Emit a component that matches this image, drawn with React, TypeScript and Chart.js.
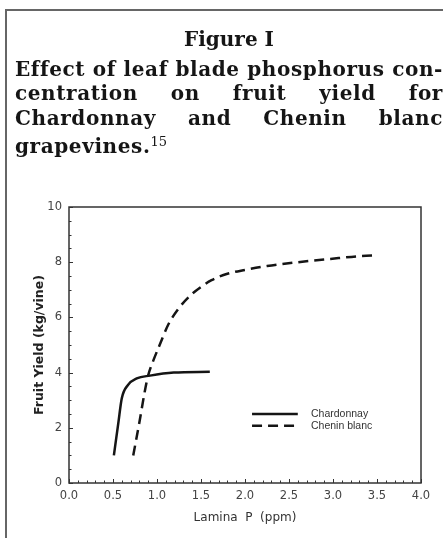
import React, { useEffect, useRef } from "react";
import { Chart, registerables } from "chart.js";

Chart.register(...registerables);

// ---- data ----
const chardonnayP = [0.51, 0.56, 0.6, 0.67, 0.77, 0.92, 1.19, 1.6];
const chardonnayYield = [1.0, 2.16, 3.07, 3.55, 3.79, 3.89, 4.0, 4.03];

const cheninP = [0.73, 0.8, 0.86, 0.9, 0.96, 1.03, 1.13, 1.24, 1.38, 1.52, 1.62, 1.8, 2.0, 2.25, 2.6, 2.97, 3.3, 3.51];
const cheninYield = [1.0, 2.2, 3.3, 3.9, 4.45, 5.0, 5.75, 6.3, 6.8, 7.15, 7.35, 7.58, 7.72, 7.86, 8.0, 8.12, 8.22, 8.25];

const seriesLabels = ["Chardonnay", "Chenin blanc"];
const xTickLabels = ["0.0", "0.5", "1.0", "1.5", "2.0", "2.5", "3.0", "3.5", "4.0"];
const yTickLabels = ["0", "2", "4", "6", "8", "10"];

const xAxisTitle = "Lamina  P  (ppm)";
const yAxisTitle = "Fruit Yield (kg/vine)";

const figureLabel = "Figure I";
const titleLines = [
  ["Effect", "of", "leaf", "blade", "phosphorus", "con-"],
  ["centration", "on", "fruit", "yield", "for"],
  ["Chardonnay", "and", "Chenin", "blanc"],
];
const lastTitleLine = "grapevines.";
const footnoteRef = "15";

const INK = "#151515";
const AXIS = "#333";
const TICK_TEXT = "#444";

const framePlugin = {
  id: "frameTicks",
  afterDraw(chart: any) {
    const { ctx, chartArea: a, scales } = chart;
    const x = scales.x;
    const y = scales.y;
    ctx.save();
    ctx.strokeStyle = AXIS;
    ctx.lineWidth = 1.5;
    ctx.strokeRect(a.left, a.top, a.right - a.left, a.bottom - a.top);
    ctx.lineWidth = 1;
    ctx.beginPath();
    for (let i = 0; i <= 40; i++) {
      const px = Math.round(x.getPixelForValue(i / 10)) + 0.5;
      const len = i % 5 === 0 ? 4 : 2.5;
      ctx.moveTo(px, a.bottom);
      ctx.lineTo(px, a.bottom - len);
    }
    for (let i = 0; i <= 20; i++) {
      const py = Math.round(y.getPixelForValue(i / 2)) + 0.5;
      const len = i % 4 === 0 ? 4 : 2.5;
      ctx.moveTo(a.left, py);
      ctx.lineTo(a.left + len, py);
    }
    ctx.stroke();

    // legend, anchored in data coordinates
    const lx0 = x.getPixelForValue(2.08);
    const lx1 = x.getPixelForValue(2.6);
    const tx = x.getPixelForValue(2.75);
    chart.data.datasets.forEach((ds: any, i: number) => {
      const ly = y.getPixelForValue(2.5) + i * 11.7;
      ctx.strokeStyle = INK;
      ctx.lineWidth = 2.5;
      ctx.setLineDash(ds.borderDash || []);
      ctx.beginPath();
      ctx.moveTo(lx0, ly);
      ctx.lineTo(lx1, ly);
      ctx.stroke();
      ctx.setLineDash([]);
      ctx.fillStyle = "#333";
      ctx.font = "10.5px 'Liberation Sans'";
      ctx.textBaseline = "middle";
      ctx.textAlign = "left";
      ctx.fillText(ds.label, tx, ly);
    });
    ctx.restore();
  },
};

function ChartCanvas() {
  const ref = useRef<HTMLCanvasElement | null>(null);
  useEffect(() => {
    if (!ref.current) return;
    const chart = new Chart(ref.current, {
      type: "line",
      data: {
        datasets: [
          {
            label: seriesLabels[0],
            data: chardonnayP.map((p, i) => ({ x: p, y: chardonnayYield[i] })),
            borderColor: INK,
            borderWidth: 2.5,
            pointRadius: 0,
            cubicInterpolationMode: "monotone",
            fill: false,
          },
          {
            label: seriesLabels[1],
            data: cheninP.map((p, i) => ({ x: p, y: cheninYield[i] })),
            borderColor: INK,
            borderWidth: 2.5,
            borderDash: [10, 6],
            pointRadius: 0,
            cubicInterpolationMode: "monotone",
            fill: false,
          },
        ],
      },
      options: {
        animation: false,
        responsive: false,
        maintainAspectRatio: false,
        layout: { padding: { left: 9, right: 22, top: 207, bottom: 10 } },
        plugins: { legend: { display: false }, tooltip: { enabled: false }, title: { display: false } },
        scales: {
          x: {
            type: "linear",
            min: 0,
            max: 4,
            afterFit: (s: any) => {
              s.height = 45;
            },
            afterBuildTicks: (s: any) => {
              s.ticks = xTickLabels.map((t) => ({ value: parseFloat(t) }));
            },
            ticks: {
              callback: (v: any) => xTickLabels.find((t) => parseFloat(t) === v) ?? "",
              color: TICK_TEXT,
              font: { family: "'DejaVu Sans'", size: 11.5 },
              padding: 6,
              maxRotation: 0,
            },
            grid: { display: false, drawTicks: false },
            border: { display: false },
            title: {
              display: true,
              text: xAxisTitle,
              color: "#333",
              font: { family: "'DejaVu Sans'", size: 12 },
              padding: { top: 0, bottom: 3 },
            },
          },
          y: {
            type: "linear",
            min: 0,
            max: 10,
            afterFit: (s: any) => {
              s.width = 60;
            },
            afterBuildTicks: (s: any) => {
              s.ticks = yTickLabels.map((t) => ({ value: parseFloat(t) }));
            },
            ticks: {
              callback: (v: any) => yTickLabels.find((t) => parseFloat(t) === v) ?? "",
              color: TICK_TEXT,
              font: { family: "'DejaVu Sans'", size: 11.5 },
              padding: 7,
            },
            grid: { display: false, drawTicks: false },
            border: { display: false },
            title: {
              display: true,
              text: yAxisTitle,
              color: "#222",
              font: { family: "'DejaVu Sans'", size: 12.5, weight: "bold" },
              padding: { top: 23, bottom: 0 },
            },
          },
        },
      },
      plugins: [framePlugin],
    } as any);
    return () => chart.destroy();
  }, []);
  return (
    <canvas
      ref={ref}
      width={443}
      height={538}
      style={{ position: "absolute", left: 0, top: 0, width: 443, height: 538 }}
    />
  );
}

const serif = "'DejaVu Serif', serif";

export default function App() {
  return (
    <div
      style={{
        position: "absolute",
        left: 0,
        top: 0,
        width: 443,
        height: 538,
        background: "#fff",
        overflow: "hidden",
      }}
    >
      <ChartCanvas />
      <div
        style={{
          position: "absolute",
          left: 5,
          top: 9,
          width: 445,
          height: 540,
          borderTop: "2px solid #666",
          borderLeft: "2px solid #666",
        }}
      />
      <div
        style={{
          position: "absolute",
          left: 15,
          top: 0,
          width: 428,
          fontFamily: serif,
          fontWeight: "bold",
          fontSize: 20,
          letterSpacing: "0.6px",
          color: INK,
        }}
      >
        <div style={{ position: "absolute", left: 0, top: 27, width: 428, textAlign: "center", lineHeight: "24px", letterSpacing: 0 }}>
          {figureLabel}
        </div>
        {titleLines.map((words, i) => (
          <div
            key={i}
            style={{
              position: "absolute",
              left: 0,
              top: 57 + i * 24.4,
              width: 428,
              display: "flex",
              justifyContent: "space-between",
              lineHeight: "24px",
              whiteSpace: "nowrap",
            }}
          >
            {words.map((w, j) => (
              <span key={j}>{w}</span>
            ))}
          </div>
        ))}
        <div style={{ position: "absolute", left: 0, top: 57 + 3 * 24.4, lineHeight: "24px", whiteSpace: "nowrap" }}>
          {lastTitleLine}
          <sup style={{ fontSize: 13, fontWeight: "normal", verticalAlign: "7px", letterSpacing: 0 }}>{footnoteRef}</sup>
        </div>
      </div>
    </div>
  );
}
